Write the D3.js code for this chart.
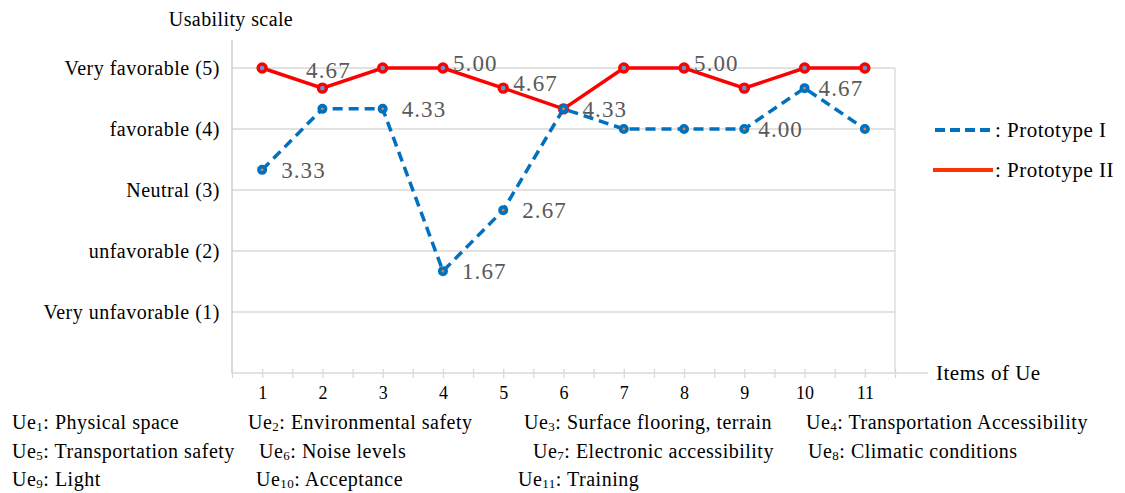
<!DOCTYPE html>
<html><head><meta charset="utf-8">
<script src="https://cdnjs.cloudflare.com/ajax/libs/d3/7.8.5/d3.min.js"></script>
<style>body{margin:0;background:#fff}svg{display:block}text{font-family:"Liberation Serif","Times New Roman",serif}</style>
</head><body><svg id="c" width="1125" height="493"></svg>
<script>
const items = [1,2,3,4,5,6,7,8,9,10,11];
const protoI = [3.33,4.33,4.33,1.67,2.67,4.33,4.00,4.00,4.00,4.67,4.00];
const protoII = [5.00,4.67,5.00,5.00,4.67,4.33,5.00,5.00,4.67,5.00,5.00];
const yTickValues = [1,2,3,4,5];
const yTickLabels = ["Very unfavorable (1)","unfavorable (2)","Neutral (3)","favorable (4)","Very favorable (5)"];
const seriesNames = [": Prototype I", ": Prototype II"];
// which points carry a value label, and where it sits
const labelsI = [[1,"r"],[3,"r"],[4,"r"],[5,"r"],[6,"r"],[9,"rn"],[10,"rn"]];
const labelsII = [[2,"a"],[4,"ru"],[5,"ru"],[8,"ru"]];
const ueNames = [["1","Physical space"],["2","Environmental safety"],["3","Surface flooring, terrain"],["4","Transportation Accessibility"],
 ["5","Transportation safety"],["6","Noise levels"],["7","Electronic accessibility"],["8","Climatic conditions"],
 ["9","Light"],["10","Acceptance"],["11","Training"]];

const svg = d3.select("#c");
const FS = 20, LS = 0.5;
const x = d3.scaleLinear().domain([0.5, 11.5]).range([232, 895]);
const y = d3.scaleLinear().domain([0, 5]).range([373, 68]);
const blue = "#0070C0", red = "#FF0000", gray = "#D9D9D9", axisC = "#C8C8C8";

// gridlines
svg.append("g").selectAll("line").data(yTickValues).join("line")
  .attr("x1", x(0.5)).attr("x2", x(11.5)).attr("y1", d=>y(d)).attr("y2", d=>y(d))
  .attr("stroke", gray).attr("stroke-width", 1.3);
// right border
svg.append("line").attr("x1", x(11.5)).attr("x2", x(11.5)).attr("y1", y(5)).attr("y2", y(0))
  .attr("stroke", gray).attr("stroke-width", 1.3);
// left axis
svg.append("line").attr("x1", x(0.5)).attr("x2", x(0.5)).attr("y1", y(5.46)).attr("y2", y(0))
  .attr("stroke", axisC).attr("stroke-width", 1.3);
// y labels
const ya = d3.axisLeft(y).tickValues(yTickValues).tickSize(0).tickPadding(12)
  .tickFormat(d=>yTickLabels[d-1]);
const yg = svg.append("g").attr("transform", `translate(${x(0.5)},0)`).call(ya);
yg.select(".domain").remove();
yg.selectAll("text").attr("font-size", FS).attr("letter-spacing", LS).attr("fill", "#000").attr("font-family","Liberation Serif");

// x axis
const xa = d3.axisBottom(x).tickValues(d3.range(0.5, 11.51, 0.5)).tickSize(5).tickPadding(8)
  .tickFormat(d => Number.isInteger(d) ? d : "");
const xg = svg.append("g").attr("transform", `translate(0,${y(0)})`).call(xa);
xg.select(".domain").remove();
xg.selectAll(".tick line").attr("y1", -4).attr("stroke", gray).attr("stroke-width", 1.3);
xg.selectAll("text").attr("font-size", 18).attr("fill", "#000").attr("font-family","Liberation Serif");
svg.append("line").attr("x1", x(0.5)).attr("x2", 928).attr("y1", y(0)).attr("y2", y(0))
  .attr("stroke", gray).attr("stroke-width", 1.5);

// titles
svg.append("text").attr("x", 231).attr("y", 26).attr("text-anchor","middle").attr("font-size", FS)
  .attr("letter-spacing", 0.4).text("Usability scale");
svg.append("text").attr("x", 936).attr("y", y(0)+7).attr("font-size", 21).attr("letter-spacing", LS).text("Items of Ue");

// lines
const line = d3.line().x((d,i)=>x(items[i])).y(d=>y(d));
svg.append("path").datum(protoI).attr("d", line).attr("fill","none").attr("stroke", blue)
  .attr("stroke-width", 3.5).attr("stroke-dasharray","10,6");
svg.append("path").datum(protoII).attr("d", line).attr("fill","none").attr("stroke", red)
  .attr("stroke-width", 3.5);

// markers
svg.append("g").selectAll("circle").data(protoII).join("circle")
  .attr("cx",(d,i)=>x(items[i])).attr("cy", d=>y(d)).attr("r", 4)
  .attr("fill","#5B9BD5").attr("stroke", red).attr("stroke-width", 3.4);
svg.append("g").selectAll("circle").data(protoI).join("circle")
  .attr("cx",(d,i)=>x(items[i])).attr("cy", d=>y(d)).attr("r", 3.2)
  .attr("fill","#ED7D31").attr("stroke", blue).attr("stroke-width", 3.6);

// value labels
function addLabels(vals, labels){
  labels.forEach(([it, pos])=>{
    const cx = x(it), cy = y(vals[it-1]);
    let tx = cx + 19, ty = cy + 8, anchor = "start";
    if (pos === "a") { tx = cx + 6; ty = cy - 10; anchor = "middle"; }
    if (pos === "ru") { tx = cx + 10; ty = cy + 3; }
    if (pos === "rn") { tx = cx + 14; ty = cy + 8; }
    svg.append("text").attr("x", tx).attr("y", ty).attr("text-anchor", anchor)
      .attr("font-size", 23).attr("letter-spacing", 1.1).attr("fill", "#595959").text(vals[it-1].toFixed(2));
  });
}
addLabels(protoI, labelsI);
addLabels(protoII, labelsII);

// legend
svg.append("line").attr("x1", 935).attr("x2", 994).attr("y1", 130).attr("y2", 130)
  .attr("stroke", blue).attr("stroke-width", 4).attr("stroke-dasharray","10,5");
svg.append("line").attr("x1", 933).attr("x2", 993).attr("y1", 170).attr("y2", 170)
  .attr("stroke", "#FF3300").attr("stroke-width", 4);
svg.append("text").attr("x", 995).attr("y", 137).attr("font-size", 21).attr("letter-spacing", LS).text(seriesNames[0]);
svg.append("text").attr("x", 995).attr("y", 177).attr("font-size", 21).attr("letter-spacing", LS).text(seriesNames[1]);

// bottom definitions
const colX = [[12,248,524,806],[12,259,533,808],[12,256,518]];
const rowY = [429, 458, 486];
let k = 0;
colX.forEach((row, r)=>{
  row.forEach(cx=>{
    const [sub, name] = ueNames[k++];
    const t = svg.append("text").attr("x", cx).attr("y", rowY[r]).attr("font-size", FS).attr("letter-spacing", LS);
    t.append("tspan").text("Ue");
    t.append("tspan").attr("font-size", 13).attr("dy", 2).text(sub);
    t.append("tspan").attr("dy", -2).text(": " + name);
  });
});
</script></body></html>
